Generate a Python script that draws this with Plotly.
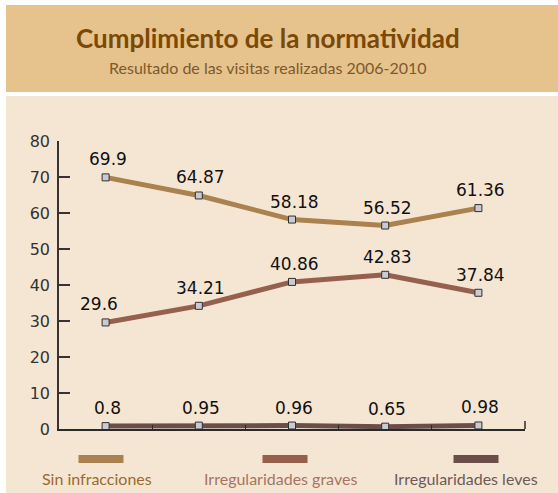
import plotly.graph_objects as go

years = ["2006", "2007", "2008", "2009", "2010"]
sin_infracciones = [69.9, 64.87, 58.18, 56.52, 61.36]
irreg_graves = [29.6, 34.21, 40.86, 42.83, 37.84]
irreg_leves = [0.8, 0.95, 0.96, 0.65, 0.98]
y_ticks = [0, 10, 20, 30, 40, 50, 60, 70, 80]

series = [
    ("Sin infracciones", sin_infracciones, "#A9824F", "#9A6B2C"),
    ("Irregularidades graves", irreg_graves, "#96604F", "#A87462"),
    ("Irregularidades leves", irreg_leves, "#6C4E49", "#6E5A57"),
]

W, H = 558, 493
L, R, T, B = 59, 33, 141, 64
PW, PH = W - L - R, H - T - B

def px(x):
    return (x - L) / PW

def py(y):
    return (H - B - y) / PH

fig = go.Figure()
for name, vals, col, _ in series:
    fig.add_trace(go.Scatter(
        x=years, y=vals, mode="lines+markers", name=name,
        line=dict(color=col, width=5),
        marker=dict(symbol="square", size=7, color="#C9CAD2",
                    line=dict(color="#303030", width=1)),
        cliponaxis=False, showlegend=False,
    ))

annotations = []
for name, vals, col, _ in series:
    for i, v in enumerate(vals):
        xs = -7 if (name == "Irregularidades graves" and i == 0) else 2
        annotations.append(dict(
            x=i, y=v, xref="x", yref="y", text=f"{v:g}", showarrow=False,
            xanchor="center", yanchor="bottom", yshift=6, xshift=xs,
            font=dict(family="DejaVu Sans", size=17, color="#111111"),
        ))

# title
annotations.append(dict(x=px(268), y=py(38), xref="paper", yref="paper",
                        xanchor="center", yanchor="middle",
                        text="<b>Cumplimiento de la normatividad</b>", showarrow=False,
                        font=dict(family="Lato", size=26, color="#7A4906")))
annotations.append(dict(x=px(268), y=py(68), xref="paper", yref="paper",
                        xanchor="center", yanchor="middle",
                        text="Resultado de las visitas realizadas 2006-2010", showarrow=False,
                        font=dict(family="Lato", size=16, color="#7D5A2E")))

shapes = [
    dict(type="rect", xref="paper", yref="paper", x0=px(6), x1=px(559), y0=py(5), y1=py(92),
         fillcolor="#E6C28C", line=dict(width=0), layer="below"),
    dict(type="rect", xref="paper", yref="paper", x0=px(6), x1=px(559), y0=py(96), y1=py(494),
         fillcolor="#F5E6D4", line=dict(width=0), layer="below"),
    dict(type="line", xref="paper", yref="paper", x0=px(525), x1=px(525), y0=py(429), y1=py(421),
         line=dict(color="#2A2A2A", width=1.5)),
]

# legend (swatch above text)
legend_pos = [(101, 97), (285, 280), (476, 466)]
for (name, vals, col, tcol), (sx, tx) in zip(series, legend_pos):
    shapes.append(dict(type="rect", xref="paper", yref="paper",
                       x0=px(sx - 22.5), x1=px(sx + 22.5), y0=py(455), y1=py(463),
                       fillcolor=col, line=dict(width=0)))
    annotations.append(dict(x=px(tx), y=py(478), xref="paper", yref="paper",
                            xanchor="center", yanchor="middle",
                            text=name, showarrow=False,
                            font=dict(family="Lato", size=16, color=tcol)))

fig.update_layout(
    width=W, height=H,
    margin=dict(l=L, r=R, t=T, b=B, pad=0),
    paper_bgcolor="white", plot_bgcolor="rgba(0,0,0,0)",
    shapes=shapes, annotations=annotations,
    xaxis=dict(type="category", range=[-0.5, 4.5], showgrid=False, showticklabels=False,
               showline=True, linecolor="#2A2A2A", linewidth=1.5,
               ticks="inside", tickson="boundaries", ticklen=4, tickcolor="#2A2A2A",
               tickwidth=1, zeroline=False, fixedrange=True),
    yaxis=dict(range=[0, 80], tickvals=y_ticks, showgrid=False, zeroline=False,
               showline=True, linecolor="#3A3232", linewidth=1.5,
               ticks="inside", ticklen=11, tickcolor="#3A3232", tickwidth=1.5,
               ticklabelstandoff=4,
               tickfont=dict(family="DejaVu Sans", size=16, color="#333333")),
)

fig.write_html("out.html", config={"displayModeBar": False},
               post_script="document.body.style.margin='0';")
